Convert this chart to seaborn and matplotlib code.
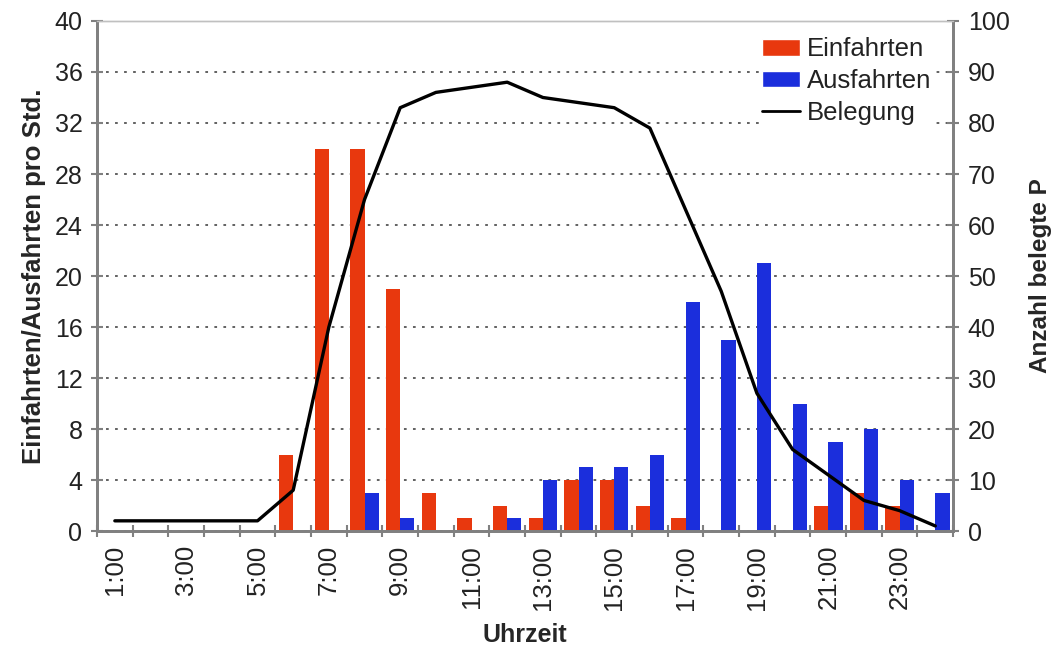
import numpy as np
import pandas as pd
import seaborn as sns
import matplotlib.pyplot as plt
from matplotlib.patches import Patch
from matplotlib.lines import Line2D

# Stunden 1:00 .. 24:00
hours = ['{}:00'.format(h) for h in range(1, 25)]
einfahrten = [0, 0, 0, 0, 0, 6, 30, 30, 19, 3, 1, 2,
              1, 4, 4, 2, 1, 0, 0, 0, 2, 3, 2, 0]
ausfahrten = [0, 0, 0, 0, 0, 0, 0, 3, 1, 0, 0, 1,
              4, 5, 5, 6, 18, 15, 21, 10, 7, 8, 4, 3]
belegung = [2, 2, 2, 2, 2, 8, 40, 65, 83, 86, 87, 88,
            85, 84, 83, 79, 63, 47, 27, 16, 11, 6, 4, 1]

red = '#E8380E'
blue = '#1B2EDC'
grey = '#808080'

df = pd.DataFrame({
    'Uhrzeit': hours * 2,
    'Anzahl': einfahrten + ausfahrten,
    'Typ': ['Einfahrten'] * 24 + ['Ausfahrten'] * 24,
})

sns.set_theme(style='white')
plt.rcParams['font.family'] = ['Liberation Sans', 'DejaVu Sans']

fig, ax = plt.subplots(figsize=(10.59, 6.56), dpi=100)
fig.subplots_adjust(left=0.0916, right=0.900, bottom=0.1905, top=0.968)

sns.barplot(data=df, x='Uhrzeit', y='Anzahl', hue='Typ', order=hours,
            hue_order=['Einfahrten', 'Ausfahrten'],
            palette={'Einfahrten': red, 'Ausfahrten': blue},
            width=0.8, saturation=1, legend=False, ax=ax, zorder=2,
            linewidth=0)

ax.set_ylim(0, 40)
ax.set_yticks(range(0, 41, 4))
ax.set_axisbelow(True)
ax.yaxis.grid(True, linestyle=(0, (1.5, 3.5)), color='#555555', linewidth=1.3)
ax.grid(False, axis='x')

# x axis: ticks on category boundaries, labels every second hour
pos = np.arange(len(hours))
ax.set_xticks(pos[::2], labels=hours[::2], rotation=90)
ax.set_xticks(np.arange(-0.5, len(hours), 1), minor=True)
ax.tick_params(axis='x', which='major', length=0, pad=10, labelsize=18.5,
               labelcolor='#222222')
ax.tick_params(axis='x', which='minor', length=9, width=1.5,
               direction='inout', color=grey, bottom=True)
ax.tick_params(axis='y', length=9, width=1.5, direction='inout', color=grey,
               labelsize=18, labelcolor='#222222', pad=6, left=True)

ax2 = ax.twinx()
sns.lineplot(x=pos, y=belegung, ax=ax2, color='black', linewidth=2.4)
ax2.set_ylim(0, 100)
ax2.set_yticks(range(0, 101, 10))
ax2.tick_params(axis='y', length=9, width=1.5, direction='inout', color=grey,
                labelsize=18, labelcolor='#222222', pad=6, right=True)
ax.set_xlim(-0.5, len(hours) - 0.5)

for a in (ax, ax2):
    for s in ('left', 'right', 'bottom'):
        a.spines[s].set_color(grey)
        a.spines[s].set_linewidth(2)
    a.spines['top'].set_color('#c0c0c0')
    a.spines['top'].set_linewidth(1)

ax.set_xlabel('Uhrzeit', fontsize=18, fontweight='bold', labelpad=10)
ax.set_ylabel('Einfahrten/Ausfahrten pro Std.', fontsize=18.5,
              fontweight='bold', labelpad=6)
ax2.set_ylabel('Anzahl belegte P', fontsize=17.5, fontweight='bold',
               rotation=90, labelpad=14)

handles = [Patch(facecolor=red), Patch(facecolor=blue),
           Line2D([], [], color='black', linewidth=2)]
leg = ax2.legend(handles, ['Einfahrten', 'Ausfahrten', 'Belegung'],
                 loc='upper right', bbox_to_anchor=(0.993, 0.998),
                 fontsize=18.5, frameon=True, facecolor='white',
                 edgecolor='none', framealpha=1, fancybox=False,
                 handlelength=1.45, handleheight=0.6, handletextpad=0.3,
                 labelspacing=0.3, borderpad=0.1)
for t in leg.get_texts():
    t.set_color('#222222')

fig.savefig('out.png', dpi=100)
plt.close(fig)
